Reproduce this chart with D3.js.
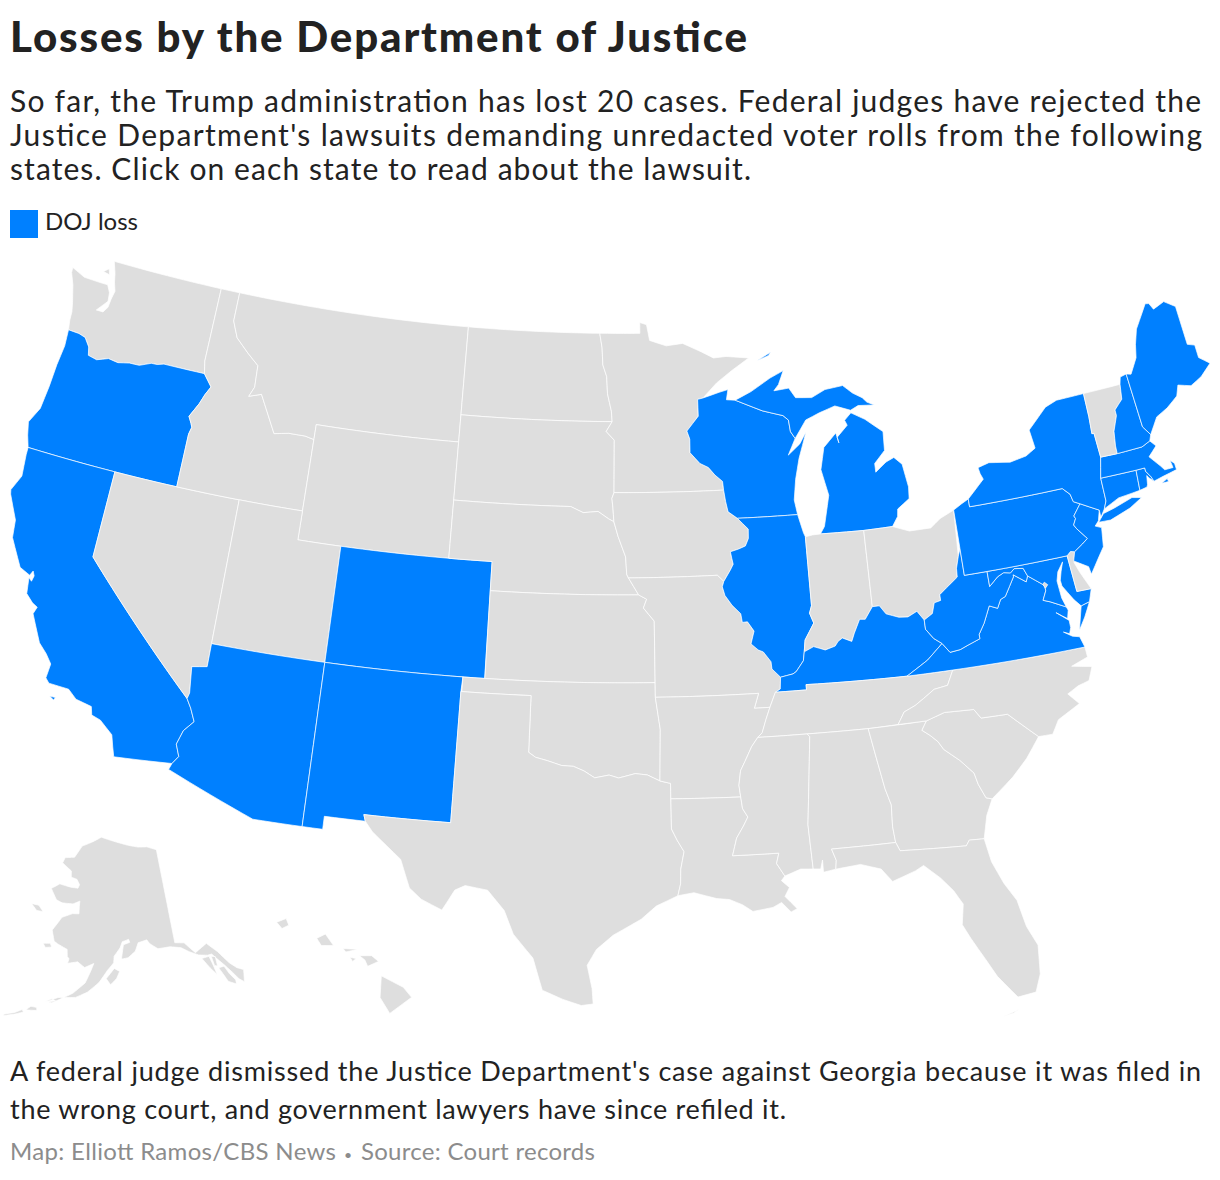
<!DOCTYPE html>
<html>
<head>
<meta charset="utf-8">
<title>Losses by the Department of Justice</title>
<script src="https://cdn.jsdelivr.net/npm/d3@7"></script>
<style>
  body { margin: 0; background: #fff; }
  svg { display: block; font-family: Lato, sans-serif; }
</style>
</head>
<body>
<div id="vis"></div>
<script>
const titleText = "Losses by the Department of Justice";
const subtitleLines = [
  "So far, the Trump administration has lost 20 cases. Federal judges have rejected the",
  "Justice Department's lawsuits demanding unredacted voter rolls from the following",
  "states. Click on each state to read about the lawsuit."
];
const legendLabel = "DOJ loss";
const noteLines = [
  "A federal judge dismissed the Justice Department's case against Georgia because it was filed in",
  "the wrong court, and government lawyers have since refiled it."
];
const creditParts = ["Map: Elliott Ramos/CBS News", "\u2022", "Source: Court records"];

// States where the DOJ lost
const lossStates = ["OR", "CA", "AZ", "NM", "CO", "WI", "MI", "IL", "KY", "WV", "VA", "MD", "PA", "NJ", "NY", "CT", "RI", "MA", "NH", "ME"];

// Shared borders, [lon, lat]
const columbia = [[-118.98,46],[-119.3,45.93],[-119.6,45.92],[-120.15,45.75],[-120.65,45.74],[-121.2,45.65],[-121.7,45.7],[-122.25,45.55],[-122.7,45.62],[-122.8,45.9],[-123.1,46.18],[-123.45,46.25],[-124,46.27]];
const snake = [[-116.92,46],[-116.46,45.6],[-116.67,45.3],[-116.85,44.95],[-117.2,44.45],[-117.03,44.23],[-116.95,44.1],[-117.03,43.85]];
const bitterroot = [[-116.05,48],[-115.7,47.45],[-115,47],[-114.4,46.65],[-114.35,45.9],[-114.55,45.55],[-113.95,45.7],[-113.45,45.05],[-113,44.45],[-112.3,44.55],[-111.5,44.55],[-111.05,44.48]];
const redRiverNorth = [[-97.23,49],[-97.1,48.5],[-97.05,47.9],[-96.85,47.5],[-96.8,46.9],[-96.6,46.3],[-96.56,45.94]];
const mnSdLine = [[-96.56,45.94],[-96.85,45.6],[-96.45,45.3],[-96.45,43.5]];
const missouriSdNe = [[-96.45,42.5],[-96.7,42.6],[-97.2,42.85],[-97.9,42.8],[-98.5,43]];
const bigSioux = [[-96.45,43.5],[-96.55,43.3],[-96.5,43],[-96.45,42.5]];
const missouriNeIa = [[-96.45,42.5],[-96.25,42],[-96.1,41.7],[-95.9,41.3],[-95.85,40.7],[-95.77,40.58]];
const missouriKsMo = [[-95.77,40.58],[-95.31,40],[-94.95,39.85],[-95.1,39.55],[-94.62,39.1]];
const mnWiLine = [[-92.02,46.7],[-92.29,46.66],[-92.29,46.08],[-92.88,45.58],[-92.75,45.3],[-92.76,44.83],[-92.3,44.45],[-91.9,44.3],[-91.6,44.03],[-91.25,43.8],[-91.22,43.5]];
const iaWiLine = [[-91.22,43.5],[-91.15,43.1],[-91.06,42.75],[-90.64,42.51]];
const iaIlLine = [[-90.64,42.51],[-90.42,42.33],[-90.16,42.12],[-90.18,41.8],[-90.34,41.55],[-90.66,41.46],[-91.05,41.38],[-91,41.15],[-90.95,40.95],[-91.1,40.75],[-91.42,40.38]];
const moIlLine = [[-91.42,40.38],[-91.5,40.2],[-91.4,39.9],[-91.1,39.55],[-90.73,39.25],[-90.68,38.95],[-90.45,38.96],[-90.18,38.63],[-90.35,38.2],[-90.05,37.98],[-89.83,37.9],[-89.52,37.55],[-89.5,37.3],[-89.15,37]];
const moKyLine = [[-89.15,37],[-89.2,36.6],[-89.42,36.5]];
const tnWest = [[-89.42,36.5],[-89.55,36.27],[-89.7,36]];
const arTnLine = [[-89.7,36],[-89.9,35.6],[-90.1,35.15],[-90.3,35]];
const arMsLine = [[-90.3,35],[-90.58,34.7],[-90.9,34.2],[-91.1,33.9],[-91.2,33.4],[-91.15,33]];
const laMsLine = [[-91.15,33],[-91.1,32.6],[-90.9,32.3],[-91.1,32],[-91.4,31.6],[-91.6,31],[-89.73,31],[-89.85,30.65],[-89.55,30.2]];
const redRiverSouth = [[-100,34.56],[-99.7,34.4],[-99.2,34.3],[-98.6,34.15],[-98.1,34.13],[-97.65,33.98],[-97.2,33.75],[-96.6,33.85],[-96.2,33.75],[-95.5,33.9],[-95,33.85],[-94.48,33.64]];
const sabine = [[-94.04,31.99],[-93.82,31.6],[-93.55,31.2],[-93.7,30.6],[-93.72,30.1],[-93.84,29.69]];
const ohioIlKy = [[-89.15,37],[-88.6,37.08],[-88.45,37.15],[-88.1,37.5],[-88.03,37.8]];
const ohioInKy = [[-88.03,37.8],[-87.6,37.95],[-87.1,37.8],[-86.65,37.9],[-86.5,38.05],[-86.3,38.15],[-85.9,38],[-85.75,38.27],[-85.45,38.72],[-85.2,38.7],[-84.82,39.1]];
const ohioOhKy = [[-84.82,39.1],[-84.5,39.1],[-84.25,38.8],[-83.7,38.63],[-83.3,38.6],[-82.87,38.75],[-82.6,38.42]];
const ohioOhWv = [[-82.6,38.42],[-82.2,38.6],[-82.05,38.95],[-81.75,39],[-81.75,39.2],[-81.4,39.4],[-80.85,39.7],[-80.82,40],[-80.65,40.4],[-80.52,40.64]];
const wabash = [[-87.53,39.35],[-87.65,39.1],[-87.5,38.75],[-87.95,38.2],[-88.03,37.8]];
const kyWvLine = [[-82.6,38.42],[-82.6,38.1],[-82.3,37.75],[-81.97,37.54]];
const kyVaLine = [[-81.97,37.54],[-82.7,37.05],[-83.68,36.6]];
const vaWvLine = [[-81.97,37.54],[-81.68,37.2],[-81.22,37.24],[-80.85,37.35],[-80.3,37.5],[-80.3,37.65],[-80,38],[-79.65,38.55],[-79.3,38.42],[-79.1,38.7],[-78.87,38.77],[-78.35,39.38],[-78.35,39.45],[-77.83,39.13],[-77.72,39.32]];
const potomacUpper = [[-77.72,39.32],[-77.85,39.6],[-78.25,39.65],[-78.45,39.53],[-78.75,39.58],[-79.05,39.48],[-79.48,39.2]];
const potomacLower = [[-76.3,38.02],[-76.6,38.15],[-76.95,38.3],[-77.25,38.4],[-77.05,38.7],[-77.05,38.85],[-77.12,38.93],[-77.72,39.32]];
const delawareUpper = [[-75.35,42],[-75.05,41.75],[-74.98,41.48],[-74.7,41.36]];
const delawareLower = [[-74.7,41.36],[-75.1,41],[-75.05,40.9],[-75.2,40.7],[-75.1,40.55],[-74.72,40.15],[-75,40],[-75.42,39.8]];
const tnNcLine = [[-84.32,35],[-84,35.4],[-83.5,35.57],[-83.1,35.77],[-82.6,36.03],[-82,36.1],[-81.68,36.59]];
const gaScLine = [[-83.11,35],[-83.35,34.7],[-83.05,34.5],[-82.75,34.25],[-82.55,33.95],[-81.95,33.5],[-81.45,33],[-81.35,32.6],[-81.12,32.1],[-80.88,32.03]];
const ncScLine = [[-83.11,35],[-82.3,35.2],[-81.05,35.15],[-80.8,34.82],[-79.67,34.8],[-78.55,33.86]];
const gaAlLine = [[-85.6,34.98],[-85.18,32.87],[-85,32.3],[-85.05,31.55],[-85,31]];
const gaFlLine = [[-85,31],[-84.86,30.7],[-82.2,30.57],[-82.05,30.75],[-81.45,30.72]];
const vtNhLine = [[-71.5,45.01],[-71.6,44.5],[-72.05,44.2],[-72.05,44],[-72.35,43.5],[-72.45,43],[-72.46,42.73]];
const nyVtLine = [[-73.26,42.75],[-73.3,43.6],[-73.4,43.6],[-73.35,44.2],[-73.34,45.01]];
const meNhLine = [[-71.08,45.3],[-70.98,43.4],[-70.7,43.07]];
const miUpperWi = [[-90.42,46.57],[-89.1,46.14],[-88.1,45.92],[-87.85,45.75],[-87.8,45.35],[-87.6,45.1]];
const rev = a => a.slice().reverse();

const WA = [[-122.76,49],[-117.03,49],[-117.04,46.43],[-116.92,46],...columbia,[-124.08,46.6],[-124.1,46.9],[-124.2,47.2],[-124.45,47.8],[-124.7,48.2],[-124.72,48.38],[-124,48.17],[-123.1,48.15],[-122.75,48.15],[-122.55,47.9],[-122.5,47.6],[-122.95,47.2],[-122.6,47.2],[-122.42,47.4],[-122.38,47.7],[-122.3,48],[-122.45,48.3],[-122.55,48.6]];
const WA_sanjuan = [[-123.15,48.55],[-122.9,48.7],[-122.8,48.5]];
const OR = [[-124,46.27],...rev(columbia),...snake,[-117.03,42],[-124.21,42],[-124.4,42.4],[-124.55,42.84],[-124.2,43.4],[-124.1,44.2],[-124.05,45],[-123.95,45.7]];
const ID = [[-117.03,49],[-116.05,49],...bitterroot,[-111.05,42],[-117.03,42],...rev(snake),[-117.04,46.43]];
const MT = [[-116.05,49],[-104.05,49],[-104.05,45],[-111.05,45],...rev(bitterroot)];
const WY = [[-111.05,45],[-104.05,45],[-104.05,41],[-111.05,41]];
const ND = [[-104.05,49],...redRiverNorth,[-104.05,45.94]];
const SD = [[-104.05,45.94],...mnSdLine,...bigSioux,...missouriSdNe.slice(1),[-104.05,43]];
const NE = [[-104.05,43],...rev(missouriSdNe),...missouriNeIa.slice(1),[-95.31,40],[-102.05,40],[-102.05,41],[-104.05,41]];
const KS = [[-102.05,40],...missouriKsMo.slice(1),[-94.62,37],[-102.04,37]];
const OK = [[-103,37],[-94.62,37],[-94.62,36.5],[-94.43,35.4],...rev(redRiverSouth),[-100,36.5],[-103,36.5]];
const TX = [[-103.04,36.5],[-100,36.5],...redRiverSouth,[-94.04,33.55],...sabine,[-94.7,29.35],[-95.3,28.9],[-96.4,28.35],[-97.05,27.85],[-97.4,27.3],[-97.2,26.5],[-97.15,25.96],[-97.6,25.9],[-98.3,26.1],[-99.1,26.4],[-99.5,27.5],[-100.3,28.3],[-100.7,29.1],[-101.4,29.77],[-102.3,29.88],[-102.7,29.7],[-103.15,28.98],[-104,29.3],[-104.5,29.65],[-104.95,30.6],[-106.2,31.45],[-106.53,31.78],[-106.62,32],[-103.06,32]];
const NM = [[-109.05,37],[-103,37],[-103.04,36.5],[-103.06,32],[-106.62,32],[-106.53,31.78],[-108.21,31.78],[-108.21,31.33],[-109.05,31.33]];
const CO = [[-109.05,41],[-102.05,41],[-102.05,37],[-109.05,37]];
const UT = [[-114.05,42],[-111.05,42],[-111.05,41],[-109.05,41],[-109.05,37],[-114.05,37]];
const coloradoRiverLower = [[-114.63,35],[-114.4,34.7],[-114.15,34.27],[-114.52,33.9],[-114.7,33.4],[-114.5,33],[-114.72,32.72]];
const coloradoRiverUpper = [[-114.05,36.2],[-114.7,36.1],[-114.57,35.2],[-114.63,35]];
const AZ = [[-114.05,37],[-109.05,37],[-109.05,31.33],[-111.07,31.33],[-114.81,32.5],...rev(coloradoRiverLower),...rev(coloradoRiverUpper)];
const NV = [[-120,42],[-114.05,42],...coloradoRiverUpper,[-120,39]];
const CA = [[-124.21,42],[-120,42],[-120,39],...coloradoRiverLower,[-117.12,32.53],[-117.25,32.85],[-117.4,33.25],[-118,33.65],[-118.4,33.75],[-118.5,34.03],[-119.2,34.15],[-119.6,34.42],[-120.47,34.45],[-120.65,34.6],[-120.6,35.1],[-120.9,35.4],[-121.3,35.7],[-121.9,36.6],[-121.8,36.85],[-122.05,36.95],[-122.4,37.2],[-122.5,37.75],[-122.35,37.65],[-122.3,37.85],[-122.4,38],[-122.5,37.83],[-123,38],[-123.7,38.9],[-123.8,39.5],[-124.35,40.3],[-124.4,40.45],[-124.1,41],[-124.2,41.75]];
const CA_islands = [[-120.3,34.03],[-120.05,34.03],[-120.1,33.93]];
const MN = [[-97.23,49],[-95.15,49],[-95.15,49.38],[-94.8,49.3],[-94.65,48.75],[-93.8,48.55],[-92.95,48.62],[-92,48.3],[-91.4,48.07],[-90.75,48.1],[-89.6,48],[-90.5,47.6],[-91.3,47.2],...mnWiLine,[-96.45,43.5],...rev(mnSdLine),...rev(redRiverNorth).slice(1)];
const IA = [[-96.45,43.5],...iaWiLine,...iaIlLine.slice(1),[-91.7,40.6],[-95.77,40.58],...rev(missouriNeIa).slice(1),...rev(bigSioux).slice(1)];
const MO = [[-95.77,40.58],[-91.7,40.6],...moIlLine,...moKyLine.slice(1),...tnWest.slice(1),[-90.37,36],[-90.15,36.5],[-94.62,36.5],...rev(missouriKsMo).slice(0,-1)];
const AR = [[-94.62,36.5],[-90.15,36.5],[-90.37,36],...arTnLine,...arMsLine.slice(1),[-94.04,33.02],[-94.04,33.55],[-94.48,33.64],[-94.43,35.4]];
const LA = [[-94.04,33.02],...laMsLine,[-89.7,30.05],[-89.4,29.8],[-89.6,29.5],[-89.15,29.05],[-89.4,28.95],[-89.75,29.3],[-90.1,29.15],[-90.9,29.05],[-91.3,29.3],[-91.8,29.5],[-92.3,29.55],[-93.2,29.78],...rev(sabine)];
const MS = [[-90.3,35],[-88.2,35],[-88.1,34.9],[-88.47,31.9],[-88.4,30.37],[-88.9,30.4],...rev(laMsLine),...rev(arMsLine).slice(1)];
const AL = [[-88.2,35],...gaAlLine,[-87.6,31],[-87.45,30.6],[-87.5,30.3],[-88,30.23],[-88,30.65],[-88.1,30.35],[-88.4,30.37],[-88.47,31.9],[-88.1,34.9]];
const GA = [[-85.6,34.98],[-83.11,35],...gaScLine.slice(1),[-81.2,31.5],...rev(gaFlLine),...rev(gaAlLine).slice(1)];
const FL = [[-87.6,31],...gaFlLine,[-81.3,29.9],[-80.95,29.1],[-80.55,28.45],[-80.35,27.5],[-80.03,26.8],[-80.13,25.8],[-80.4,25.2],[-81.1,25.13],[-81.75,25.95],[-82.1,26.6],[-82.55,27.4],[-82.8,27.9],[-82.65,28.6],[-82.95,29.1],[-83.4,29.6],[-84,30.1],[-84.35,29.95],[-85.3,29.68],[-85.7,30.15],[-86.5,30.38],[-87.5,30.3],[-87.45,30.6]];
const FL_keys = [[-81.8,24.53],[-81.3,24.65],[-81.15,24.7],[-81.35,24.6]];
const SC = [...ncScLine,[-79.2,33.2],[-79.9,32.65],...rev(gaScLine)];
const NC = [[-84.32,35],...ncScLine,[-77.95,33.85],[-77.6,34.3],[-76.6,34.7],[-77,35.1],[-76.5,35.3],[-76,35.4],[-75.75,35.85],[-76.6,36],[-75.85,36.2],[-75.87,36.55],...rev(tnNcLine)];
const TN = [[-90.3,35],[-88.2,35],[-85.6,34.98],...tnNcLine,[-83.68,36.6],[-88.07,36.68],[-88.07,36.5],...tnWest,...arTnLine.slice(1)];
const KY = [[-89.42,36.5],[-88.07,36.5],[-88.07,36.68],...rev(kyVaLine),...kyWvLine.slice(0,-1).reverse(),...rev(ohioOhKy).slice(1),...rev(ohioInKy).slice(1),...rev(ohioIlKy).slice(1),[-89.2,36.6]];
const VA = [[-83.68,36.6],[-81.68,36.59],[-75.87,36.55],[-76,36.93],[-76.3,37],[-76.65,37.2],[-76.4,37.1],[-76.3,37.3],[-76.3,37.55],[-76.8,37.9],[-76.35,37.62],[-76.25,37.9],...potomacLower,...rev(vaWvLine),...kyVaLine.slice(1,-1)];
const VA_shore = [[-75.95,37.15],[-75.6,37.55],[-75.25,38.03],[-75.65,37.95]];
const MD = [[-79.48,39.72],[-75.79,39.72],[-75.7,38.46],[-75.05,38.45],[-75.25,38.03],[-75.65,37.95],[-75.9,38.2],[-76.3,38.75],[-76.32,38.95],[-76.2,39.25],[-76.05,39.55],[-76.35,39.25],[-76.47,38.95],[-76.42,38.35],...potomacLower,...potomacUpper.slice(1)];
const DE = [[-75.79,39.72],[-75.6,39.84],[-75.42,39.8],[-75.55,39.45],[-75.4,39.1],[-75.05,38.45],[-75.7,38.46]];
const DC = [[-77.12,38.93],[-77.04,39],[-76.91,38.89],[-77.04,38.79]];
const WV = [...rev(ohioOhWv),...kyWvLine.slice(1),...vaWvLine.slice(1),...potomacUpper.slice(1),[-79.48,39.72],[-80.52,39.72]];
const PA = [[-80.52,41.98],[-80.1,42.15],[-79.76,42.27],[-79.76,42],...delawareUpper,...delawareLower.slice(1),[-75.6,39.84],[-75.79,39.72],[-80.52,39.72],[-80.52,40.64]];
const NJ = [[-74.7,41.36],[-73.9,41],[-74.05,40.65],[-74.25,40.5],[-73.98,40.4],[-74.1,39.75],[-74.4,39.45],[-74.9,38.93],[-74.95,39.2],[-75.55,39.5],...rev(delawareLower).slice(0,-1)];
const NY = [[-79.76,42.27],[-79.76,42],...delawareUpper,[-73.9,41],[-73.9,40.75],[-73.66,41],[-73.5,41.25],[-73.49,42.05],...nyVtLine,[-74.7,45],[-75.3,44.85],[-76.3,44.2],[-76.2,43.55],[-76.7,43.35],[-77.5,43.25],[-78.5,43.37],[-79.05,43.27],[-79,43.05],[-78.9,42.85]];
const NY_longisland = [[-74.05,40.6],[-73.75,40.85],[-73.2,40.95],[-72.3,41.15],[-71.87,41.07],[-72.5,40.82],[-73.5,40.58]];
const VT = [[-73.34,45.01],...vtNhLine,...nyVtLine.slice(0,-1)];
const NH = [[-71.5,45.01],[-71.4,45.25],...meNhLine,[-70.82,42.87],[-71.25,42.74],...rev(vtNhLine).slice(0,-1)];
const ME = [...meNhLine.slice(0,1),[-70.85,45.25],[-70.4,45.75],[-70.25,46.2],[-70,46.7],[-69.23,47.46],[-69.05,47.43],[-68.9,47.2],[-68.3,47.35],[-67.8,47.07],[-67.79,45.7],[-67.45,45.6],[-67.45,45.15],[-67,44.85],[-67.6,44.5],[-68.2,44.3],[-68.8,44.45],[-69,44.1],[-69.6,43.8],[-70.2,43.6],[-70.7,43.07],[-70.98,43.4]];
const MA = [[-73.26,42.75],[-72.46,42.73],[-71.25,42.74],[-70.82,42.87],[-70.6,42.65],[-71.05,42.35],[-70.65,41.95],[-70.5,41.78],[-70.1,41.78],[-70.15,42.05],[-69.98,41.9],[-69.97,41.68],[-70.65,41.58],[-71.12,41.5],[-71.2,41.67],[-71.38,41.9],[-71.38,42.02],[-71.8,42.02],[-73.49,42.05]];
const MA_vineyard = [[-70.8,41.36],[-70.5,41.47],[-70.47,41.36]];
const CT = [[-73.49,42.05],[-71.8,42.02],[-71.86,41.32],[-72.9,41.25],[-73.66,41],[-73.5,41.25]];
const RI = [[-71.8,42.02],[-71.38,42.02],[-71.38,41.9],[-71.2,41.67],[-71.12,41.5],[-71.3,41.65],[-71.38,41.75],[-71.45,41.45],[-71.5,41.37],[-71.86,41.32]];
const WI = [[-92.02,46.7],[-91.2,46.87],[-90.75,46.95],[-90.85,46.6],...miUpperWi,[-88,44.55],[-87.4,44.9],[-87.05,45.28],[-87.5,44.4],[-87.75,43.7],[-87.9,43],[-87.8,42.49],...rev(iaWiLine),...rev(mnWiLine).slice(1)];
const IL = [[-90.64,42.51],[-87.8,42.49],[-87.6,41.85],[-87.53,41.71],...wabash,...ohioIlKy.slice(0,-1).reverse(),...rev(moIlLine).slice(1),...rev(iaIlLine).slice(1)];
const IN = [[-87.53,41.71],[-87.2,41.75],[-86.82,41.76],[-84.8,41.72],...rev(ohioInKy),...rev(wabash).slice(1)];
const OH = [[-84.8,41.72],[-83.45,41.73],[-82.7,41.5],[-81.7,41.5],[-81.2,41.77],[-80.52,41.98],...ohioOhWv.slice(0,-1).reverse(),...rev(ohioOhKy).slice(1)];
const MI_lower = [[-86.82,41.76],[-84.8,41.72],[-83.45,41.73],[-83.15,42.05],[-83.1,42.3],[-82.5,42.6],[-82.45,43],[-82.6,43.8],[-82.95,44.07],[-83.35,43.95],[-83.9,43.65],[-83.9,43.95],[-83.35,44.35],[-83.3,45],[-84.1,45.5],[-84.75,45.78],[-85.1,45.55],[-85,45.37],[-85.55,45],[-85.5,44.8],[-85.6,45.15],[-86.25,44.7],[-86.5,43.95],[-86.25,43.05],[-86.6,42]];
const MI_upper = [...miUpperWi,[-87,45.7],[-86.3,45.9],[-85.5,46.08],[-84.75,45.87],[-84.35,46],[-83.55,45.95],[-83.9,46.08],[-84.1,46.25],[-84.55,46.45],[-85,46.75],[-85.9,46.68],[-86.6,46.45],[-87.4,46.5],[-87.7,46.85],[-88.45,46.8],[-88.2,47],[-87.9,47.47],[-88.6,47.25],[-89.6,46.83]];
const MI_royale = [[-89.2,47.88],[-88.45,48.15],[-88.6,48.03]];
const AK = [[-141,69.65],[-143.5,70.1],[-146,70.2],[-149,70.5],[-152,70.85],[-156.6,71.35],[-159,70.85],[-162,70.3],[-163.7,69.1],[-166.2,68.9],[-166.6,68.35],[-164,67.7],[-163.8,67.1],[-162.3,66.95],[-161.5,66.45],[-161.8,66.1],[-163.5,66.1],[-166.3,66.25],[-168.1,65.65],[-166.4,64.65],[-165,64.45],[-162.5,64.5],[-161,64.85],[-161,64.3],[-160.9,63.6],[-162.3,63.55],[-164.5,63.05],[-166.1,61.65],[-165.3,60.6],[-164.5,60.4],[-162.5,60],[-162.3,59.3],[-161.9,59.1],[-162.1,58.65],[-160.2,58.9],[-158.8,58.4],[-157.1,58.85],[-157.6,58.1],[-158.5,56.9],[-160.5,55.8],[-163.2,54.85],[-164.9,54.6],[-163,55.2],[-160,55.4],[-158,56],[-156,57],[-154.5,58.2],[-153.3,58.95],[-153.2,59.6],[-152,60.4],[-151.5,61],[-150.2,61.2],[-150,60.9],[-151.3,60.7],[-151.8,59.3],[-150.5,59.4],[-149,60],[-148.3,60.8],[-146.5,61],[-146,60.6],[-144.5,60],[-142,60],[-140,59.7],[-138.5,59.1],[-137,58.6],[-135.4,58.35],[-134.6,58.35],[-133.6,57.5],[-132.9,56.9],[-132,56],[-131.3,55.2],[-130.6,54.75],[-130,55.9],[-131,56.3],[-132,57],[-133.4,58.4],[-135,59.5],[-136.5,59.15],[-137.5,58.9],[-139.2,60.1],[-141,60.3]];
const AK_chichagof = [[-136.6,58.2],[-135.2,58.2],[-134.9,57.2],[-134.7,56.25],[-135.6,57.1]];
const AK_admiralty = [[-134.8,58.15],[-134.1,58],[-134.2,57.05],[-134.7,57.2]];
const AK_kupreanof = [[-134.1,56.85],[-133.1,56.85],[-132.6,56],[-131.9,55.2],[-132,54.8],[-133.2,55.3],[-133.7,56.2]];
const AK_lawrence = [[-171.7,63.75],[-170,63.75],[-168.8,63.25],[-170.2,63.2]];
const AK_nunivak = [[-167.4,60.2],[-166,60.35],[-165.6,60],[-166.8,59.85]];
const AK_kodiak = [[-154.7,57.4],[-153.2,58.4],[-152.2,58.1],[-152.8,57.4],[-153.9,56.8]];
const AK_unimak = [[-165,54.65],[-164,54.6],[-163.3,54.8],[-164,55]];
const AK_unalaska = [[-168,53.45],[-166.2,53.6],[-166.3,53.9],[-167.3,53.9]];
const AK_chain = [[-171.3,52.4],[-169.6,52.8],[-168.3,53.2],[-168.6,53.4],[-169.7,52.95],[-171.3,52.55]];
const HI_big = [[-155.9,20.25],[-155.1,19.85],[-154.8,19.5],[-155.6,18.95],[-155.95,19.5]];
const HI_maui = [[-156.7,20.95],[-156.25,20.95],[-156,20.75],[-156.4,20.58],[-156.5,20.8]];
const HI_lanai = [[-157.05,20.9],[-156.82,20.85],[-156.95,20.75]];
const HI_molokai = [[-157.3,21.2],[-156.75,21.17],[-157.2,21.08]];
const HI_oahu = [[-158.27,21.55],[-157.95,21.7],[-157.65,21.3],[-158.1,21.3]];
const HI_kauai = [[-159.75,22.1],[-159.4,22.23],[-159.3,22.0],[-159.55,21.88]];

const stateRings = {
  WA: [WA, WA_sanjuan], OR: [OR], CA: [CA, CA_islands], NV: [NV], ID: [ID], MT: [MT], WY: [WY], UT: [UT], AZ: [AZ], CO: [CO], NM: [NM],
  ND: [ND], SD: [SD], NE: [NE], KS: [KS], OK: [OK], TX: [TX], MN: [MN], IA: [IA], MO: [MO], AR: [AR], LA: [LA],
  WI: [WI], IL: [IL], MI: [MI_lower, MI_upper, MI_royale], IN: [IN], OH: [OH], KY: [KY], TN: [TN], MS: [MS], AL: [AL],
  GA: [GA], FL: [FL, FL_keys], SC: [SC], NC: [NC], VA: [VA, VA_shore], WV: [WV], MD: [MD], DE: [DE], DC: [DC], PA: [PA],
  NJ: [NJ], NY: [NY, NY_longisland], CT: [CT], RI: [RI], MA: [MA, MA_vineyard], VT: [VT], NH: [NH], ME: [ME],
  AK: [AK, AK_chichagof, AK_admiralty, AK_kupreanof, AK_lawrence, AK_nunivak, AK_kodiak, AK_unimak, AK_unalaska, AK_chain],
  HI: [HI_big, HI_maui, HI_lanai, HI_molokai, HI_oahu, HI_kauai]
};

const width = 1220, height = 1180;
const blue = "#0080ff", gray = "#dedede", ink = "#222222", muted = "#8c8c8c";

const svg = d3.select("#vis").append("svg")
  .attr("width", width)
  .attr("height", height);

const projection = d3.geoAlbersUsa()
  .scale(1663)
  .translate([610, 633]);

// Break long segments so parallels come out curved
function densify(ring) {
  const out = [];
  ring.forEach((p, i) => {
    const q = ring[(i + 1) % ring.length];
    const n = Math.max(1, Math.ceil(Math.hypot(q[0] - p[0], q[1] - p[1]) / 0.5));
    for (let k = 0; k < n; k++) {
      out.push([p[0] + (q[0] - p[0]) * k / n, p[1] + (q[1] - p[1]) * k / n]);
    }
  });
  return out;
}

const line = d3.line().curve(d3.curveLinearClosed);
const statePath = rings => rings
  .map(r => line(densify(r).map(projection).filter(Boolean)))
  .join("");

svg.append("g")
  .selectAll("path")
  .data(Object.keys(stateRings))
  .join("path")
  .attr("d", d => statePath(stateRings[d]))
  .attr("fill", d => lossStates.includes(d) ? blue : gray)
  .attr("stroke", "#fff")
  .attr("stroke-width", 0.7)
  .attr("stroke-linejoin", "round");

// Text
svg.append("text")
  .attr("x", 10).attr("y", 52)
  .attr("font-size", 42).attr("font-weight", 900)
  .attr("fill", ink)
  .attr("textLength", 737).attr("lengthAdjust", "spacing")
  .text(titleText);

svg.selectAll(".subtitle")
  .data(subtitleLines)
  .join("text")
  .attr("class", "subtitle")
  .attr("x", 10).attr("y", (d, i) => 112 + i * 34)
  .attr("font-size", 30)
  .attr("fill", ink)
  .attr("textLength", (d, i) => [1191, 1192, 741][i]).attr("lengthAdjust", "spacing")
  .text(d => d);

svg.append("rect")
  .attr("x", 10).attr("y", 210)
  .attr("width", 28).attr("height", 28)
  .attr("fill", blue);

svg.append("text")
  .attr("x", 45).attr("y", 230)
  .attr("font-size", 24)
  .attr("fill", ink)
  .attr("textLength", 93).attr("lengthAdjust", "spacing")
  .text(legendLabel);

svg.selectAll(".note")
  .data(noteLines)
  .join("text")
  .attr("class", "note")
  .attr("x", 10).attr("y", (d, i) => 1081 + i * 38)
  .attr("font-size", 27)
  .attr("fill", ink)
  .attr("textLength", (d, i) => [1191, 776][i]).attr("lengthAdjust", "spacing")
  .text(d => d);

svg.selectAll(".credit")
  .data(creditParts)
  .join("text")
  .attr("class", "credit")
  .attr("x", (d, i) => [10, 344, 361][i]).attr("y", 1160)
  .attr("font-size", (d, i) => i === 1 ? 14 : 24)
  .attr("fill", muted)
  .attr("textLength", (d, i) => i === 1 ? null : [326, 0, 234][i]).attr("lengthAdjust", "spacing")
  .text(d => d);
</script>
</body>
</html>
